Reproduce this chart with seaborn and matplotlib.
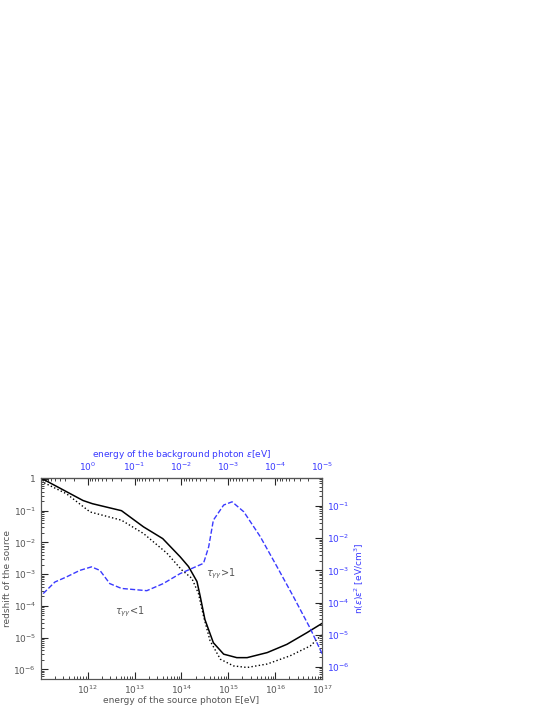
import numpy as np
import pandas as pd
import matplotlib
matplotlib.use('Agg')
import matplotlib.pyplot as plt
import seaborn as sns

sns.set_style('ticks')
plt.rcParams['font.family'] = ['DejaVu Sans']

# log10 E [eV], log10 z  (solid)
solid_logE = [11.0, 11.9, 12.1, 12.72, 13.19, 13.6, 13.97, 14.15, 14.33, 14.4, 14.5, 14.68, 14.9, 15.18, 15.4, 15.83, 16.25, 16.68, 17.0]
solid_logz = [0.03, -0.68, -0.78, -1.0, -1.51, -1.88, -2.45, -2.76, -3.23, -3.7, -4.43, -5.16, -5.52, -5.63, -5.63, -5.47, -5.21, -4.84, -4.55]
# dotted
dot_logE = [11.0, 11.55, 12.05, 12.72, 13.19, 13.69, 14.0, 14.22, 14.36, 14.47, 14.61, 14.83, 15.11, 15.4, 15.83, 16.32, 16.75, 17.0]
dot_logz = [-0.07, -0.47, -1.04, -1.3, -1.72, -2.34, -2.86, -3.13, -3.6, -4.32, -5.1, -5.68, -5.89, -5.94, -5.83, -5.57, -5.26, -4.9]
# background photon density n(eps) eps^2 [eV/cm^3], right axis
bg_logE = [11.05, 11.3, 11.55, 11.83, 12.08, 12.26, 12.47, 12.72, 13.26, 13.61, 13.97, 14.47, 14.58, 14.68, 14.9, 15.08, 15.33, 15.68, 16.04, 16.39, 16.75, 17.0]
bg_logn = [-3.72, -3.36, -3.2, -3.0, -2.89, -3.0, -3.41, -3.56, -3.63, -3.41, -3.1, -2.78, -2.27, -1.44, -0.97, -0.87, -1.18, -1.95, -2.89, -3.82, -4.81, -5.59]

solid = pd.DataFrame({'E': 10.0 ** np.array(solid_logE), 'z': 10.0 ** np.array(solid_logz)})
dotted = pd.DataFrame({'E': 10.0 ** np.array(dot_logE), 'z': 10.0 ** np.array(dot_logz)})
bg = pd.DataFrame({'E': 10.0 ** np.array(bg_logE), 'n': 10.0 ** np.array(bg_logn)})

grey = '#555555'
blue = '#3a3aff'
fs = 6.5

fig = plt.figure(figsize=(5.45, 7.05), dpi=100)
ax = fig.add_axes([0.075, 0.037, 0.516, 0.285])
sns.lineplot(data=solid, x='E', y='z', ax=ax, color='black', lw=1.1)
sns.lineplot(data=dotted, x='E', y='z', ax=ax, color='black', lw=1.0, linestyle=':')
ax.set_xscale('log')
ax.set_yscale('log')
ax.set_xlim(1e11, 1e17)
ax.set_ylim(10 ** -6.3, 10 ** 0.03)
ax.set_xticks([1e12, 1e13, 1e14, 1e15, 1e16, 1e17])
ax.set_yticks([1, 1e-1, 1e-2, 1e-3, 1e-4, 1e-5, 1e-6])
ax.set_yticklabels(['1', '$10^{-1}$', '$10^{-2}$', '$10^{-3}$', '$10^{-4}$', '$10^{-5}$', '$10^{-6}$'])
ax.set_xlabel('energy of the source photon E[eV]', fontsize=fs, color=grey, labelpad=0)
ax.set_ylabel('redshift of the source', fontsize=fs, color=grey, labelpad=1)
ax.tick_params(which='both', direction='in', labelsize=fs, labelcolor=grey, bottom=True, left=True)
ax.tick_params(which='major', length=5)
ax.tick_params(which='minor', length=2.5)

ax2 = ax.twinx()
sns.lineplot(data=bg, x='E', y='n', ax=ax2, color=blue, lw=1.0, linestyle='--')
ax2.set_yscale('log')
ax2.set_ylim(10 ** -6.37, 10 ** -0.13)
ax2.set_yticks([1e-1, 1e-2, 1e-3, 1e-4, 1e-5, 1e-6])
ax2.set_ylabel(r'n($\epsilon$)$\epsilon^2$ [eV/cm$^3$]', fontsize=fs, color=blue, labelpad=2)
ax2.tick_params(which='both', direction='in', labelsize=fs, labelcolor=blue)
ax2.tick_params(which='major', length=5)
ax2.tick_params(which='minor', length=2.5)

top = ax.secondary_xaxis('top', functions=(lambda e: 1e12 / e, lambda p: 1e12 / p))
top.set_xticks([1, 1e-1, 1e-2, 1e-3, 1e-4, 1e-5])
top.set_xticklabels(['$10^{0}$', '$10^{-1}$', '$10^{-2}$', '$10^{-3}$', '$10^{-4}$', '$10^{-5}$'])
top.set_xlabel(r'energy of the background photon $\epsilon$[eV]', fontsize=fs, color=blue, labelpad=3)
top.tick_params(which='both', direction='in', labelsize=fs, labelcolor=blue)
top.tick_params(which='major', length=5)
top.tick_params(which='minor', length=2.5)

ax.text(10 ** 14.85, 10 ** -3.0, r'$\tau_{\gamma\gamma}$>1', fontsize=7, color=grey, ha='center', va='center')
ax.text(10 ** 12.9, 10 ** -4.2, r'$\tau_{\gamma\gamma}$<1', fontsize=7, color=grey, ha='center', va='center')

for a in (ax, ax2):
    for s in a.spines.values():
        s.set_color(grey)

fig.savefig('out.png', dpi=100)
